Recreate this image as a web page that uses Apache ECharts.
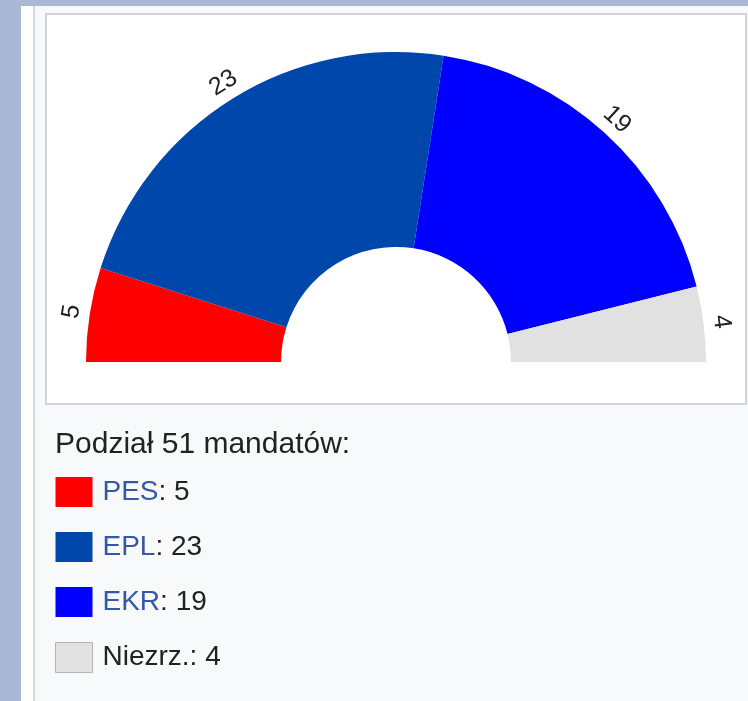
<!DOCTYPE html>
<html>
<head>
<meta charset="utf-8">
<script src="https://cdn.jsdelivr.net/npm/echarts@6/dist/echarts.min.js"></script>
<style>
    html, body { margin: 0; padding: 0; }
    body { width: 748px; height: 701px; background: #aab8d5; position: relative; overflow: hidden; }
    .outer { position: absolute; left: 21px; top: 6px; right: 0; bottom: 0; background: #fff; }
    .panel { position: absolute; left: 33px; top: 6px; right: 0; bottom: 0; background: #f8f9fa; border-left: 2px solid #d4d6da; }
    .box { position: absolute; left: 45px; top: 13px; width: 698px; height: 388px; background: #fff; border: 2px solid #d0d3d7; }
    #chart { position: absolute; left: 0; top: 0; width: 748px; height: 701px; }
</style>
</head>
<body>
<div class="outer"></div>
<div class="panel"></div>
<div class="box"></div>
<div id="chart"></div>
<script>
// seat split, left to right
const parties = ['PES', 'EPL', 'EKR', 'Niezrz.'];
const seats = [5, 23, 19, 4];
const colors = ['#ff0000', '#0047ab', '#0000ff', '#e1e1e1'];
const linked = ['PES', 'EPL', 'EKR'];

const total = seats.reduce((a, b) => a + b, 0);

const chart = echarts.init(document.getElementById('chart'));

const slices = parties.map((name, i) => ({
    name,
    value: seats[i],
    itemStyle: { color: colors[i] },
}));

chart.setOption({
    animation: false,
    title: {
        text: 'Podział ' + total + ' mandatów:',
        left: 55,
        top: 430,
        padding: 0,
        textStyle: { fontFamily: 'Liberation Sans', fontSize: 30, fontWeight: 'normal', color: '#222' },
    },
    legend: {
        orient: 'vertical',
        left: 55,
        top: 477,
        padding: 0,
        itemWidth: 37,
        itemHeight: 30,
        itemGap: 25,
        icon: 'rect',
        selectedMode: false,
        data: parties.map((name) => name === 'Niezrz.'
            ? { name, itemStyle: { borderColor: '#b4b4b4', borderWidth: 1 } }
            : { name }),
        formatter: (name) => {
            const v = seats[parties.indexOf(name)];
            return linked.includes(name)
                ? '{link|' + name + '}{val|: ' + v + '}'
                : '{val|' + name + ': ' + v + '}';
        },
        textStyle: {
            padding: [0, 0, 0, 5],
            rich: {
                link: { fontFamily: 'Liberation Sans', fontSize: 28, color: '#3457a8' },
                val: { fontFamily: 'Liberation Sans', fontSize: 28, color: '#222' },
            },
        },
    },
    series: [
        {
            type: 'pie',
            center: [396, 362],
            radius: [115, 310],
            startAngle: 180,
            endAngle: 0,
            silent: true,
            label: { show: false },
            labelLine: { show: false },
            data: slices,
        },
        {
            // invisible ring just outside, only carries the rotated seat counts
            type: 'pie',
            center: [396, 362],
            radius: [311, 339],
            startAngle: 180,
            endAngle: 0,
            silent: true,
            itemStyle: { color: 'rgba(0,0,0,0)' },
            label: {
                show: true,
                position: 'inside',
                rotate: 'tangential',
                formatter: '{c}',
                fontFamily: 'Liberation Sans',
                fontSize: 25,
                color: '#222',
            },
            labelLine: { show: false },
            data: parties.map((name, i) => ({ name, value: seats[i] })),
        },
    ],
});
</script>
</body>
</html>
